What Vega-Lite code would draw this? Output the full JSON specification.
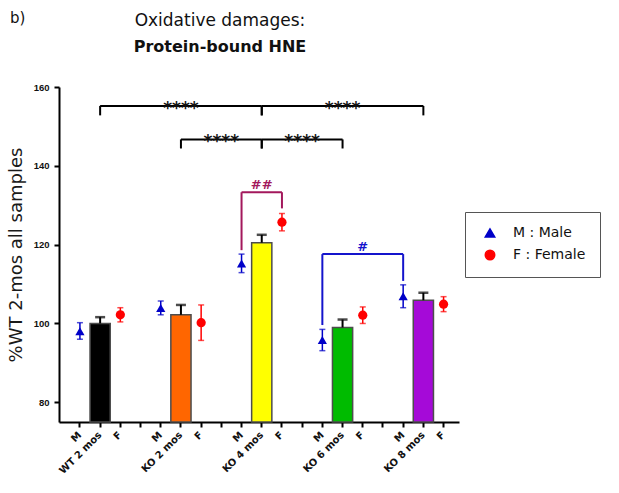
{
  "$schema": "https://vega.github.io/schema/vega-lite/v6.json",
  "width": 400,
  "height": 335,
  "autosize": {"type": "none"},
  "padding": {"left": 59, "top": 87, "right": 160, "bottom": 71},
  "background": "white",
  "config": {
    "view": {"stroke": null},
    "font": "Liberation Sans",
    "axis": {
      "grid": false,
      "domainColor": "#000",
      "domainWidth": 2,
      "tickColor": "#000",
      "tickWidth": 2,
      "tickSize": 5,
      "labelFont": "Liberation Sans",
      "labelFontWeight": "bold",
      "labelColor": "#111",
      "labelFontSize": 9.5
    },
    "legend": {
      "orient": "none",
      "legendX": 406,
      "legendY": 125,
      "strokeColor": "#555",
      "strokeWidth": 1,
      "padding": 14,
      "labelFont": "DejaVu Sans",
      "labelFontSize": 14,
      "labelColor": "#111",
      "symbolSize": 90,
      "rowPadding": 6,
      "labelOffset": 16,
      "symbolOffset": 4
    }
  },
  "title": {
    "text": "Oxidative damages:",
    "subtitle": "Protein-bound HNE",
    "anchor": "middle",
    "frame": "group",
    "dx": -39,
    "offset": -45,
    "font": "DejaVu Sans",
    "fontSize": 17,
    "fontWeight": "normal",
    "color": "#111",
    "subtitleFont": "DejaVu Sans",
    "subtitleFontSize": 16,
    "subtitleFontWeight": "bold",
    "subtitleColor": "#111",
    "subtitlePadding": 9
  },
  "datasets": {
    "bars": [
      {"slot": "WT 2 mos", "mean": 100.0, "hi": 101.6},
      {"slot": "KO 2 mos", "mean": 102.2, "hi": 104.7},
      {"slot": "KO 4 mos", "mean": 120.5, "hi": 122.5},
      {"slot": "KO 6 mos", "mean": 99.0, "hi": 101.0},
      {"slot": "KO 8 mos", "mean": 105.9, "hi": 107.8}
    ],
    "points": [
      {"slot": "WT:M", "sex": "M : Male", "mean": 98.0, "lo": 96.0, "hi": 100.2},
      {"slot": "WT:F", "sex": "F : Female", "mean": 102.2, "lo": 100.4, "hi": 104.0},
      {"slot": "KO2:M", "sex": "M : Male", "mean": 103.9, "lo": 102.2, "hi": 105.7},
      {"slot": "KO2:F", "sex": "F : Female", "mean": 100.2, "lo": 95.7, "hi": 104.7},
      {"slot": "KO4:M", "sex": "M : Male", "mean": 115.2, "lo": 112.9, "hi": 117.6},
      {"slot": "KO4:F", "sex": "F : Female", "mean": 125.7, "lo": 123.5, "hi": 127.9},
      {"slot": "KO6:M", "sex": "M : Male", "mean": 95.8, "lo": 93.1, "hi": 98.5},
      {"slot": "KO6:F", "sex": "F : Female", "mean": 102.1, "lo": 100.0, "hi": 104.2},
      {"slot": "KO8:M", "sex": "M : Male", "mean": 106.9, "lo": 104.0, "hi": 109.8},
      {"slot": "KO8:F", "sex": "F : Female", "mean": 104.9, "lo": 103.0, "hi": 106.8}
    ],
    "stars": [
      {"x1": "WT 2 mos", "x2": "KO 4 mos", "y": 155.2, "yt": 152.8, "lx": "KO 2 mos", "label": "****"},
      {"x1": "KO 4 mos", "x2": "KO 8 mos", "y": 155.2, "yt": 152.8, "lx": "KO 6 mos", "label": "****"},
      {"x1": "KO 2 mos", "x2": "KO 4 mos", "y": 146.7, "yt": 144.4, "lx": "g2", "label": "****"},
      {"x1": "KO 4 mos", "x2": "KO 6 mos", "y": 146.7, "yt": 144.4, "lx": "g3", "label": "****"}
    ],
    "hash": [
      {"x1": "KO4:M", "x2": "KO4:F", "y": 133.3, "yl": 118.6, "yr": 129.2, "lx": "KO 4 mos", "label": "##"},
      {"x1": "KO6:M", "x2": "KO8:M", "y": 117.6, "yl": 99.6, "yr": 110.8, "lx": "KO6:F", "label": "#"}
    ],
    "tag": [
      {"slot": "WT:M", "y": 177.4, "label": "b)"}
    ]
  },
  "layer": [
    {
      "data": {"name": "bars"},
      "mark": {"type": "bar", "stroke": "#4d4d4d", "strokeWidth": 1.5},
      "encoding": {
        "x": {
          "field": "slot",
          "type": "nominal",
          "scale": {
            "domain": ["WT:M", "WT 2 mos", "WT:F", "g1", "KO2:M", "KO 2 mos", "KO2:F", "g2", "KO4:M", "KO 4 mos", "KO4:F", "g3", "KO6:M", "KO 6 mos", "KO6:F", "g4", "KO8:M", "KO 8 mos", "KO8:F"],
            "paddingInner": 0,
            "paddingOuter": 0.4,
            "align": 0.67
          },
          "sort": null,
          "axis": {
            "title": null,
            "labelAngle": -45,
            "labelAlign": "right",
            "labelBaseline": "middle",
            "labelPadding": 6,
            "labelFont": "DejaVu Sans",
            "labelFontSize": 10,
            "labelExpr": "indexof(datum.value, ':') > 0 ? substring(datum.value, indexof(datum.value, ':') + 1) : (indexof(datum.value, 'g') == 0 ? '' : datum.value)"
          }
        },
        "y": {
          "field": "mean",
          "type": "quantitative",
          "scale": {"domain": [75, 160], "nice": false, "zero": false},
          "axis": {
            "values": [80, 100, 120, 140, 160],
            "title": "%WT 2-mos all samples",
            "titleFont": "DejaVu Sans",
            "titleFontSize": 18,
            "titleFontWeight": "normal",
            "titleColor": "#1a1a1a",
            "titlePadding": 8,
            "labelPadding": 5
          }
        },
        "y2": {"datum": 75},
        "fill": {
          "field": "slot",
          "type": "nominal",
          "scale": {"domain": ["WT 2 mos", "KO 2 mos", "KO 4 mos", "KO 6 mos", "KO 8 mos"], "range": ["#000000", "#ff6600", "#ffff00", "#00bb00", "#a50ad8"]},
          "legend": null
        }
      }
    },
    {
      "data": {"name": "bars"},
      "mark": {"type": "rule", "color": "#000", "strokeWidth": 2},
      "encoding": {
        "x": {"field": "slot", "type": "nominal"},
        "y": {"field": "mean", "type": "quantitative"},
        "y2": {"field": "hi"}
      }
    },
    {
      "data": {"name": "bars"},
      "mark": {"type": "tick", "color": "#000", "size": 10, "thickness": 2.5},
      "encoding": {
        "x": {"field": "slot", "type": "nominal"},
        "y": {"field": "hi", "type": "quantitative"}
      }
    },
    {
      "data": {"name": "points"},
      "mark": {"type": "point", "filled": true, "opacity": 1, "size": 85},
      "encoding": {
        "x": {"field": "slot", "type": "nominal"},
        "y": {"field": "mean", "type": "quantitative"},
        "color": {"field": "sex", "type": "nominal", "scale": {"domain": ["M : Male", "F : Female"], "range": ["#0000c8", "#ff0000"]}, "legend": {"title": null}},
        "shape": {"field": "sex", "type": "nominal", "scale": {"domain": ["M : Male", "F : Female"], "range": ["triangle-up", "circle"]}, "legend": {"title": null}}
      }
    },
    {
      "data": {"name": "points"},
      "mark": {"type": "rule", "strokeWidth": 1.5},
      "encoding": {
        "x": {"field": "slot", "type": "nominal"},
        "y": {"field": "lo", "type": "quantitative"},
        "y2": {"field": "hi"},
        "color": {"field": "sex", "type": "nominal"}
      }
    },
    {
      "data": {"name": "points"},
      "mark": {"type": "tick", "size": 6, "thickness": 1.5},
      "encoding": {
        "x": {"field": "slot", "type": "nominal"},
        "y": {"field": "hi", "type": "quantitative"},
        "color": {"field": "sex", "type": "nominal"}
      }
    },
    {
      "data": {"name": "points"},
      "mark": {"type": "tick", "size": 6, "thickness": 1.5},
      "encoding": {
        "x": {"field": "slot", "type": "nominal"},
        "y": {"field": "lo", "type": "quantitative"},
        "color": {"field": "sex", "type": "nominal"}
      }
    },
    {
      "data": {"name": "stars"},
      "mark": {"type": "rule", "color": "#000", "strokeWidth": 2},
      "encoding": {
        "x": {"field": "x1", "type": "nominal"},
        "x2": {"field": "x2"},
        "y": {"field": "y", "type": "quantitative"}
      }
    },
    {
      "data": {"name": "stars"},
      "mark": {"type": "rule", "color": "#000", "strokeWidth": 2},
      "encoding": {
        "x": {"field": "x1", "type": "nominal"},
        "y": {"field": "y", "type": "quantitative"},
        "y2": {"field": "yt"}
      }
    },
    {
      "data": {"name": "stars"},
      "mark": {"type": "rule", "color": "#000", "strokeWidth": 2},
      "encoding": {
        "x": {"field": "x2", "type": "nominal"},
        "y": {"field": "y", "type": "quantitative"},
        "y2": {"field": "yt"}
      }
    },
    {
      "data": {"name": "stars"},
      "mark": {"type": "text", "font": "DejaVu Sans", "fontSize": 17, "fontWeight": "bold", "color": "#111", "baseline": "alphabetic", "dy": 8},
      "encoding": {
        "x": {"field": "lx", "type": "nominal"},
        "y": {"field": "y", "type": "quantitative"},
        "text": {"field": "label"}
      }
    },
    {
      "data": {"name": "hash"},
      "mark": {"type": "rule", "strokeWidth": 2},
      "encoding": {
        "x": {"field": "x1", "type": "nominal"},
        "x2": {"field": "x2"},
        "y": {"field": "y", "type": "quantitative"},
        "stroke": {"field": "label", "type": "nominal", "scale": {"domain": ["##", "#"], "range": ["#a3185c", "#1414cc"]}, "legend": null}
      }
    },
    {
      "data": {"name": "hash"},
      "mark": {"type": "rule", "strokeWidth": 2},
      "encoding": {
        "x": {"field": "x1", "type": "nominal"},
        "y": {"field": "y", "type": "quantitative"},
        "y2": {"field": "yl"},
        "stroke": {"field": "label", "type": "nominal", "legend": null}
      }
    },
    {
      "data": {"name": "hash"},
      "mark": {"type": "rule", "strokeWidth": 2},
      "encoding": {
        "x": {"field": "x2", "type": "nominal"},
        "y": {"field": "y", "type": "quantitative"},
        "y2": {"field": "yr"},
        "stroke": {"field": "label", "type": "nominal", "legend": null}
      }
    },
    {
      "data": {"name": "hash"},
      "transform": [{"filter": "datum.label == '##'"}],
      "mark": {"type": "text", "font": "DejaVu Sans", "fontSize": 13, "fontWeight": "bold", "color": "#a3185c", "baseline": "alphabetic", "dy": -3},
      "encoding": {
        "x": {"field": "lx", "type": "nominal"},
        "y": {"field": "y", "type": "quantitative"},
        "text": {"field": "label"}
      }
    },
    {
      "data": {"name": "hash"},
      "transform": [{"filter": "datum.label == '#'"}],
      "mark": {"type": "text", "font": "DejaVu Sans", "fontSize": 13, "fontWeight": "bold", "color": "#1414cc", "baseline": "alphabetic", "dy": -3},
      "encoding": {
        "x": {"field": "lx", "type": "nominal"},
        "y": {"field": "y", "type": "quantitative"},
        "text": {"field": "label"}
      }
    },
    {
      "data": {"name": "tag"},
      "mark": {"type": "text", "font": "DejaVu Sans", "fontSize": 15, "color": "#111", "align": "left", "baseline": "middle", "dx": -70, "clip": false},
      "encoding": {
        "x": {"field": "slot", "type": "nominal"},
        "y": {"field": "y", "type": "quantitative"},
        "text": {"field": "label"}
      }
    }
  ]
}
